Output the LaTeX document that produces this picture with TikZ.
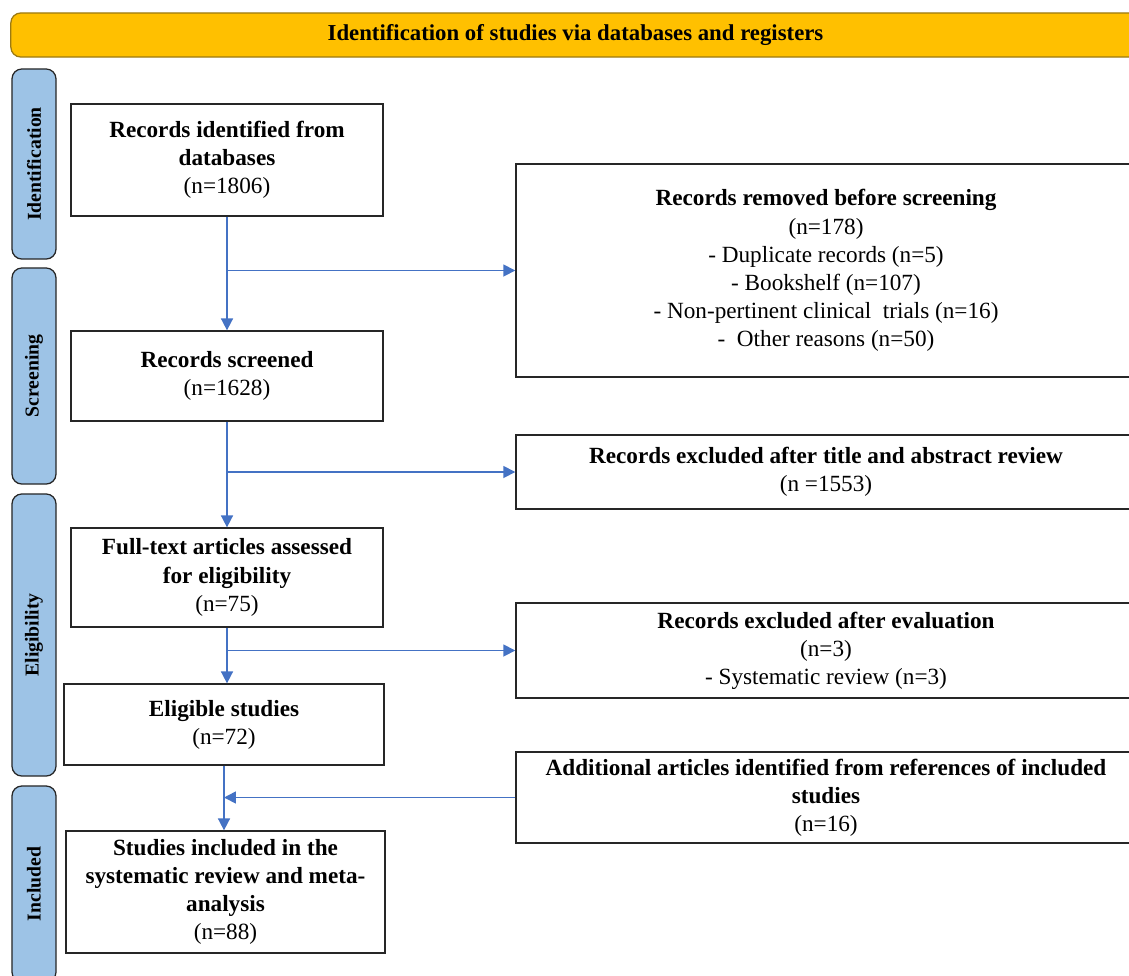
\documentclass[tikz,border=0pt]{standalone}
\usepackage{fontspec}
\setmainfont{Liberation Serif}
\usetikzlibrary{arrows.meta}

\definecolor{bannergold}{HTML}{FFC000}
\definecolor{bannerline}{HTML}{9C7A12}
\definecolor{stageblue}{HTML}{9DC3E6}
\definecolor{flowblue}{HTML}{4472C4}

\tikzstyle{stepbox}=[draw=black!85, line width=0.9pt, align=center, inner sep=2pt, font=\fontsize{16.5}{20}\selectfont]
\tikzstyle{stage}=[draw=black!85, fill=stageblue, line width=0.9pt, rounded corners=7pt, rotate=90, font=\fontsize{14}{16}\selectfont\bfseries]
\tikzstyle{banner}=[draw=bannerline, fill=bannergold, line width=0.9pt, rounded corners=7pt, font=\fontsize{16.2}{18}\selectfont\bfseries]
\tikzstyle{flow}=[-{Triangle[length=8.5pt,width=8.5pt]}, flowblue, line width=1.2pt]

\begin{document}
\begin{tikzpicture}[x=0.025cm, y=-0.025cm]
      \useasboundingbox (0,0) rectangle (1129,975);
      \node[banner, minimum width=28.225cm, minimum height=1.1cm] (head) at (575.5,35) {Identification of studies via databases and registers};

      % stages on the left
      \node[stage, minimum width=4.75cm, minimum height=1.1cm] (sident) at (34,164) {Identification};
      \node[stage, minimum width=5.4cm, minimum height=1.1cm] (sscreen) at (34,376) {Screening};
      \node[stage, minimum width=7.05cm, minimum height=1.1cm] (selig) at (34,635) {Eligibility};
      \node[stage, minimum width=4.9cm, minimum height=1.1cm] (sincl) at (34,884) {Included};

      % main column
      \node[stepbox, minimum width=7.8cm, minimum height=2.8cm] (ident) at (227,160) {\textbf{Records identified from}\\\textbf{databases}\\(n=1806)};
      \node[stepbox, minimum width=7.8cm, minimum height=2.25cm] (screen) at (227,376) {\textbf{Records screened}\\(n=1628)};
      \node[stepbox, minimum width=7.8cm, minimum height=2.475cm] (fulltext) at (227,577.5) {\textbf{Full-text articles assessed}\\\textbf{for eligibility}\\(n=75)};
      \node[stepbox, minimum width=8cm, minimum height=2.025cm] (eligible) at (224,724.5) {\textbf{Eligible studies}\\(n=72)};
      \node[stepbox, minimum width=7.975cm, minimum height=3.05cm] (included) at (225.5,892) {\textbf{Studies included in the}\\\textbf{systematic review and meta-}\\\textbf{analysis}\\(n=88)};

      % side column
      \node[stepbox, minimum width=15.5cm, minimum height=5.325cm] (removed) at (826,270.5) {\textbf{Records removed before screening}\\(n=178)\\- Duplicate records (n=5)\\- Bookshelf (n=107)\\- Non-pertinent clinical~ trials (n=16)\\-~ Other reasons (n=50)};
      \node[stepbox, minimum width=15.5cm, minimum height=1.85cm] (excluded) at (826,472) {\textbf{Records excluded after title and abstract review}\\(n =1553)};
      \node[stepbox, minimum width=15.5cm, minimum height=2.375cm] (evaluated) at (826,650.5) {\textbf{Records excluded after evaluation}\\(n=3)\\- Systematic review (n=3)};
      \node[stepbox, minimum width=15.5cm, minimum height=2.275cm] (added) at (826,797.5) {\textbf{Additional articles identified from references of included}\\\textbf{studies}\\(n=16)};

      \draw[flow] (ident.south) -- (ident.south |- screen.north);
      \draw[flow] (ident.south |- removed.west) -- (removed.west);
      \draw[flow] (screen.south) -- (screen.south |- fulltext.north);
      \draw[flow] (screen.south |- excluded.west) -- (excluded.west);
      \draw[flow] (fulltext.south) -- (fulltext.south |- eligible.north);
      \draw[flow] (fulltext.south |- evaluated.west) -- (evaluated.west);
      \draw[flow] (eligible.south) -- (eligible.south |- included.north);
      \draw[flow] (added.west) -- (eligible.south |- added.west);
    \end{tikzpicture}
\end{document}
